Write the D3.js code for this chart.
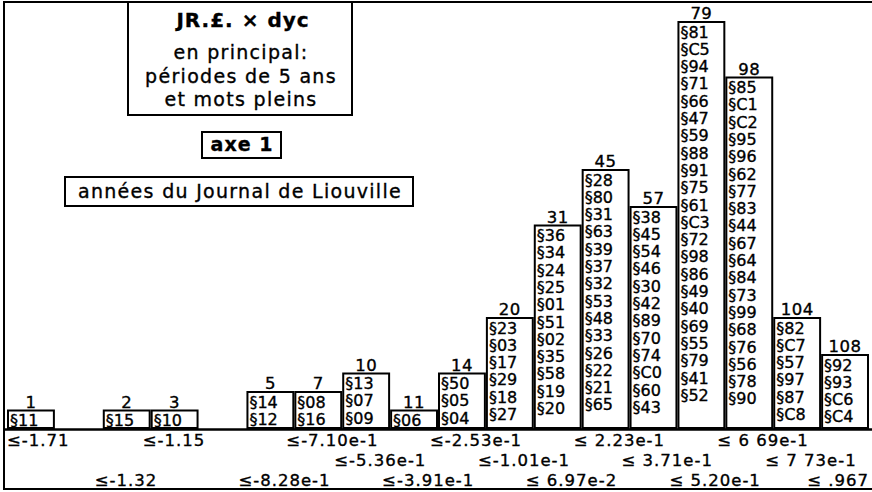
<!DOCTYPE html>
<html>

<head>
    <meta charset="utf-8">
    <style>
        body {
            margin: 0;
            background: #fff;
        }

        svg text {
            font-family: "DejaVu Sans", sans-serif;
            fill: #000;
            stroke: #000;
            stroke-width: 0.35px;
        }

        .frame {
            stroke: #000;
            stroke-width: 2px;
            fill: none;
        }

        .bar {
            fill: #fff;
            stroke: #000;
            stroke-width: 2px;
        }

        .cell {
            font-size: 16px;
        }

        .count {
            font-size: 16.5px;
            text-anchor: middle;
            letter-spacing: 0.5px;
        }

        .bound {
            font-size: 16.5px;
            letter-spacing: 1px;
        }

        .title {
            font-size: 19px;
            text-anchor: middle;
            letter-spacing: 1.3px;
        }
    </style>
    <script src="https://d3js.org/d3.v7.min.js"></script>
    <title>axe 1</title>
</head>

<body>
    <svg width="872" height="492" id="histo"></svg>
    <script>
        // codes des années dans chaque classe (de gauche à droite)
        var binCodes = [
            ["11"],
            [],
            ["15"],
            ["10"],
            [],
            ["14", "12"],
            ["08", "16"],
            ["13", "07", "09"],
            ["06"],
            ["50", "05", "04"],
            ["23", "03", "17", "29", "18", "27"],
            ["36", "34", "24", "25", "01", "51", "02", "35", "58", "19", "20"],
            ["28", "80", "31", "63", "39", "37", "32", "53", "48", "33", "26", "22", "21", "65"],
            ["38", "45", "54", "46", "30", "42", "89", "70", "74", "C0", "60", "43"],
            ["81", "C5", "94", "71", "66", "47", "59", "88", "91", "75", "61", "C3", "72", "98", "86", "49", "40", "69", "55", "79", "41", "52"],
            ["85", "C1", "C2", "95", "96", "62", "77", "83", "44", "67", "64", "84", "73", "99", "68", "76", "56", "78", "90"],
            ["82", "C7", "57", "97", "87", "C8"],
            ["92", "93", "C6", "C4"]
        ];

        // bornes supérieures des classes
        var binBounds = [
            "≤-1.71", "", "≤-1.32", "≤-1.15", "", "≤-8.28e-1", "≤-7.10e-1", "≤-5.36e-1", "≤-3.91e-1",
            "≤-2.53e-1", "≤-1.01e-1", "≤ 6.97e-2", "≤ 2.23e-1", "≤ 3.71e-1", "≤ 5.20e-1",
            "≤ 6 69e-1", "≤ 7 73e-1", "≤ .967"
        ];

        var titleLines = ["en principal:", "périodes de 5 ans", "et mots pleins"];

        var svg = d3.select("svg#histo");

        var baseY = 429,
            linePitch = 17.3;

        var counts = binCodes.map(function (d) { return d.length; });
        var cumul = Array.from(d3.cumsum(counts));

        var x = d3.scaleBand().domain(d3.range(binCodes.length)).range([7, 869]);
        var y = d3.scaleLinear().domain([0, 22]).range([baseY, 22]);

        // cadre
        svg.append("path")
            .attr("class", "frame")
            .attr("d", "M872,2H4V489H872");
        svg.append("line")
            .attr("class", "frame")
            .attr("x1", 4).attr("x2", 872)
            .attr("y1", baseY + 0.5).attr("y2", baseY + 0.5)
            .style("stroke-width", "2.5px");

        var bins = svg.selectAll(".bin")
            .data(binCodes)
            .enter()
            .append("g")
            .attr("class", "bin")
            .filter(function (d) { return d.length > 0; });

        bins.append("rect")
            .attr("class", "bar")
            .attr("x", function (d) { return x(binCodes.indexOf(d)) + 1; })
            .attr("y", function (d) { return y(d.length); })
            .attr("width", x.bandwidth() - 2)
            .attr("height", function (d) { return baseY - y(d.length) - 1; });

        bins.append("text")
            .attr("class", "count")
            .attr("x", function (d) { return x(binCodes.indexOf(d)) + x.bandwidth() / 2; })
            .attr("y", function (d) { return y(d.length) - 3; })
            .text(function (d) { return cumul[binCodes.indexOf(d)]; });

        bins.each(function (d) {
            var i = binCodes.indexOf(d);
            d3.select(this).selectAll(".cell")
                .data(d)
                .enter()
                .append("text")
                .attr("class", "cell")
                .attr("x", x(i) + 3)
                .attr("y", function (c, j) { return y(d.length) + 15.5 + j * linePitch; })
                .text(function (c) { return "§" + c; });
        });

        // bornes sur trois lignes
        var rowY = [446, 466, 486];
        svg.selectAll(".bound")
            .data(binBounds)
            .enter()
            .append("text")
            .attr("class", "bound")
            .attr("y", function (d, i) { return rowY[i % 3]; })
            .text(function (d) { return d; })
            .attr("x", function (d, i) {
                var w = this.getComputedTextLength();
                return Math.min(Math.max(7, x(i) - 8), 869 - w);
            });

        // encadrés du titre
        svg.append("rect")
            .attr("class", "frame")
            .attr("x", 128).attr("y", 2)
            .attr("width", 224).attr("height", 113);
        svg.append("text")
            .attr("class", "title")
            .attr("x", 243).attr("y", 27)
            .style("font-weight", "bold")
            .style("font-size", "20px")
            .style("letter-spacing", "1px")
            .text("JR.£.  ×  dyc");
        svg.selectAll(".tline")
            .data(titleLines)
            .enter()
            .append("text")
            .attr("class", "title tline")
            .attr("x", 241)
            .attr("y", function (d, i) { return 59 + i * 23.5; })
            .text(function (d) { return d; });

        svg.append("rect")
            .attr("class", "frame")
            .attr("x", 202).attr("y", 132)
            .attr("width", 79).attr("height", 26);
        svg.append("text")
            .attr("class", "title")
            .attr("x", 242).attr("y", 151)
            .style("font-weight", "bold")
            .style("letter-spacing", "1px")
            .text("axe 1");

        svg.append("rect")
            .attr("class", "frame")
            .attr("x", 65).attr("y", 177)
            .attr("width", 348).attr("height", 29);
        svg.append("text")
            .attr("class", "title")
            .attr("x", 240).attr("y", 198)
            .text("années du Journal de Liouville");
    </script>
</body>

</html>
